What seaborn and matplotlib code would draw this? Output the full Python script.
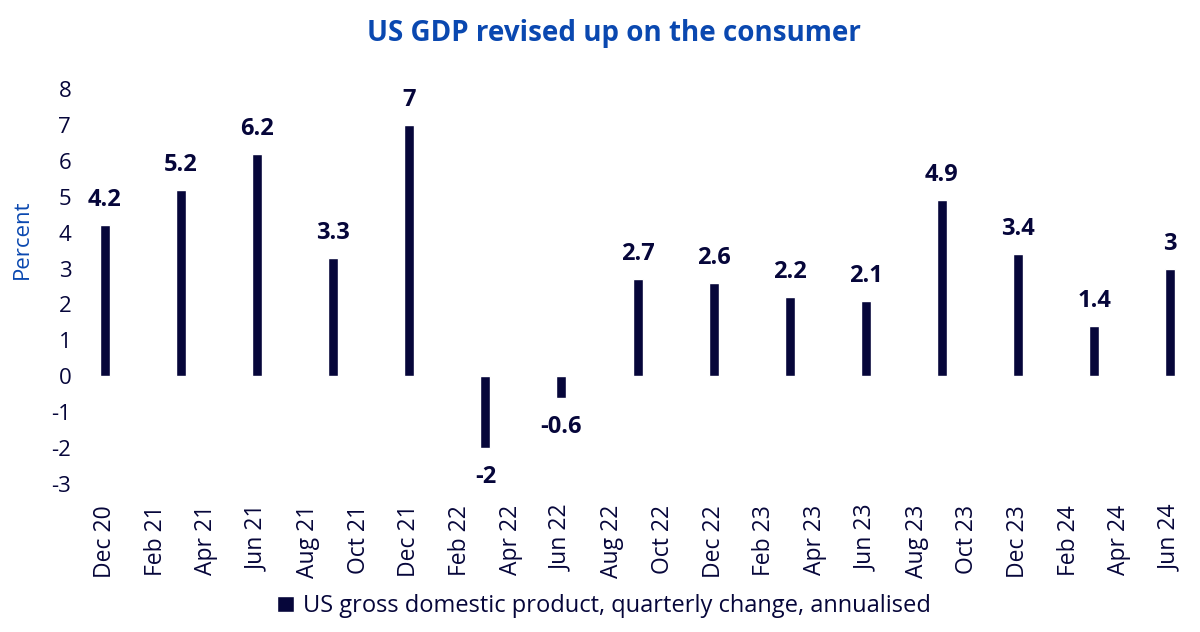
import numpy as np
import pandas as pd
import seaborn as sns
import matplotlib.pyplot as plt

# quarterly GDP, annualised % change
quarters = ['Dec 20', 'Mar 21', 'Jun 21', 'Sep 21', 'Dec 21', 'Mar 22', 'Jun 22', 'Sep 22',
            'Dec 22', 'Mar 23', 'Jun 23', 'Sep 23', 'Dec 23', 'Mar 24', 'Jun 24']
gdp = [4.2, 5.2, 6.2, 3.3, 7, -2, -0.6, 2.7, 2.6, 2.2, 2.1, 4.9, 3.4, 1.4, 3]
tick_labels = ['Dec 20', 'Feb 21', 'Apr 21', 'Jun 21', 'Aug 21', 'Oct 21', 'Dec 21', 'Feb 22',
               'Apr 22', 'Jun 22', 'Aug 22', 'Oct 22', 'Dec 22', 'Feb 23', 'Apr 23', 'Jun 23',
               'Aug 23', 'Oct 23', 'Dec 23', 'Feb 24', 'Apr 24', 'Jun 24']

navy = '#06063a'
blue = '#0a48b0'

sns.set_theme(style='white')
plt.rcParams['font.family'] = ['Open Sans', 'DejaVu Sans']

# months since Dec 2020
dates = pd.to_datetime(['01 ' + q for q in quarters], format='%d %b %y')
months = (dates.year - 2020) * 12 + dates.month - 12
df = pd.DataFrame({'month': months, 'gdp': gdp})

fig = plt.figure(figsize=(12, 6.32), dpi=100)
ax = fig.add_axes([0.0663, 0.2342, 0.93, 0.625])

sns.barplot(data=df, x='month', y='gdp', native_scale=True, width=0.131,
            color=navy, saturation=1, ax=ax, label='US gross domestic product, quarterly change, annualised')

for m, v in zip(df['month'], df['gdp']):
    label = '{:g}'.format(v)
    if v >= 0:
        ax.annotate(label, (m, v), xytext=(0, 18), textcoords='offset points',
                    ha='center', va='center', fontsize=17, fontweight='bold', color=navy)
    else:
        ax.annotate(label, (m, v), xytext=(0, -21), textcoords='offset points',
                    ha='center', va='center', fontsize=17, fontweight='bold', color=navy)

ax.set_xlim(-1, 43)
ax.set_ylim(-3, 8)
ax.set_yticks(range(-3, 9))
ax.set_yticklabels([str(i) for i in range(-3, 9)], fontsize=16, color=navy)
ax.set_xticks(range(0, 43, 2))
ax.set_xticklabels(tick_labels, rotation=90, fontsize=16.5, color=navy)
ax.tick_params(axis='both', length=0, pad=6)
ax.tick_params(axis='x', pad=15)
sns.despine(ax=ax, left=True, bottom=True)

ax.set_xlabel('')
ax.set_ylabel('Percent', fontsize=16, color=blue)
ax.yaxis.set_label_coords(-0.042, 0.62)

fig.suptitle('US GDP revised up on the consumer', x=0.512, y=0.97, fontsize=20,
             fontweight='bold', color=blue)

leg = ax.legend(loc='center', bbox_to_anchor=(0.47, -0.31), frameon=False, fontsize=17,
                handlelength=0.7, handleheight=0.7, handletextpad=0.4, labelcolor=navy)

fig.savefig('out.png', dpi=100)
